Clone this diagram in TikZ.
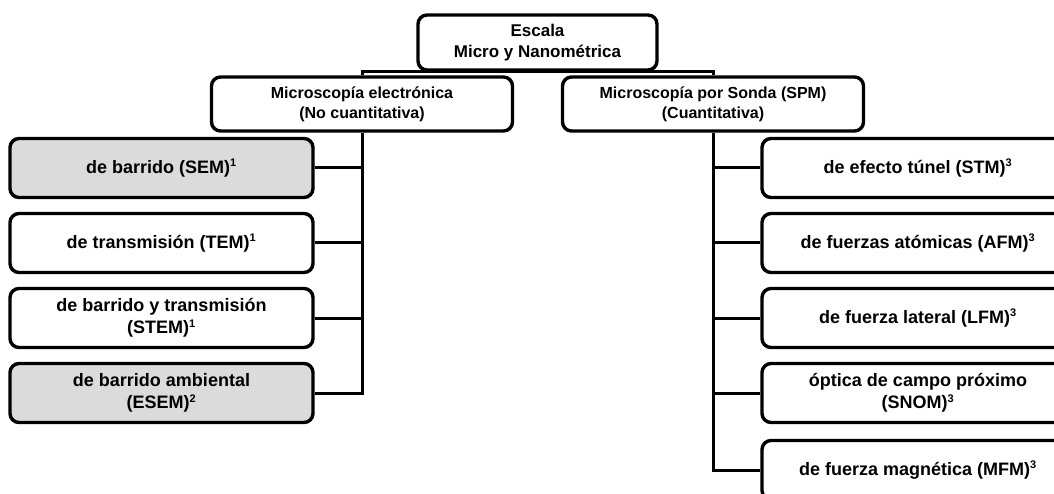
\documentclass[tikz,border=0pt]{standalone}
\usepackage{fontspec}
\setmainfont{Liberation Sans}
\newcommand{\sups}[1]{\textsuperscript{\fontsize{11}{11}\selectfont #1}}
\begin{document}
\begin{tikzpicture}[x=1pt,y=-1pt,
  box/.style={draw, line width=3.4pt, rounded corners=9pt, align=center,
    font=\bfseries, inner sep=0pt, fill=white},
  rootbox/.style={box, minimum width=239pt, minimum height=55pt, font=\bfseries\fontsize{17}{21}\selectfont},
  midbox/.style={box, minimum width=301pt, minimum height=54pt, font=\bfseries\fontsize{16}{20}\selectfont},
  leafbox/.style={box, minimum width=303pt, minimum height=59pt, font=\bfseries\fontsize{18}{22}\selectfont},
  rleafbox/.style={leafbox, minimum width=312pt},
  grey/.style={fill=gray!28},
  conn/.style={line width=3pt}
]
\path[use as bounding box] (0,0) rectangle (1054,494);
\clip (0,0) rectangle (1054,494);

\node[rootbox] (root) at (537.5,42.5) {Escala\\Micro y Nanométrica};
\node[midbox] (lmid) at (362,104) {Microscopía electrónica\\(No cuantitativa)};
\node[midbox] (rmid) at (713,104) {Microscopía por Sonda (SPM)\\(Cuantitativa)};

\node[leafbox,grey] (l1) at (161.5,168) {de barrido (SEM)\sups{1}};
\node[leafbox] (l2) at (161.5,243) {de transmisión (TEM)\sups{1}};
\node[leafbox] (l3) at (161.5,318) {de barrido y transmisión\\(STEM)\sups{1}};
\node[leafbox,grey] (l4) at (161.5,393) {de barrido ambiental\\(ESEM)\sups{2}};

\node[rleafbox] (r1) at (918,168) {de efecto túnel (STM)\sups{3}};
\node[rleafbox] (r2) at (918,243) {de fuerzas atómicas (AFM)\sups{3}};
\node[rleafbox] (r3) at (918,318) {de fuerza lateral (LFM)\sups{3}};
\node[rleafbox] (r4) at (918,393) {óptica de campo próximo\\(SNOM)\sups{3}};
\node[rleafbox] (r5) at (918,470) {de fuerza magnética (MFM)\sups{3}};

\coordinate (bl) at (362,72);
\coordinate (br) at (713,72);
\draw[conn] (root.south) -- (root.south |- bl);
\draw[conn] (lmid.north) -- (bl) -- (br) -- (rmid.north);

\draw[conn] (lmid.south) |- (l4.east);
\foreach \n in {l1,l2,l3}
  \draw[conn] (\n.east) -- (\n.east -| lmid.south);

\draw[conn] (rmid.south) |- (r5.west);
\foreach \n in {r1,r2,r3,r4}
  \draw[conn] (\n.west) -- (\n.west -| rmid.south);
\end{tikzpicture}
\end{document}
